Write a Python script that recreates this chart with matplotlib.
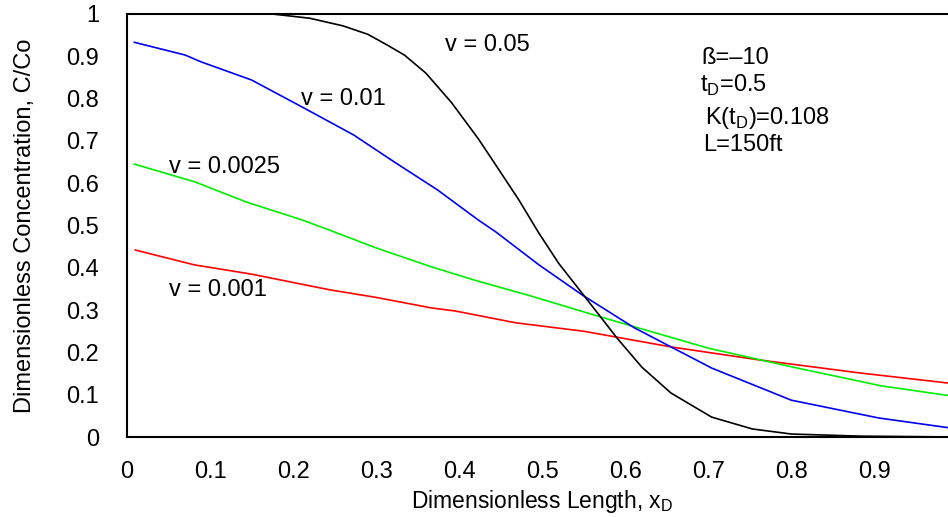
import matplotlib
matplotlib.use('Agg')
import matplotlib.pyplot as plt

plt.rcParams['font.family'] = ['Liberation Sans', 'DejaVu Sans']

# v = 0.001
x_red = [0.01, 0.081, 0.15, 0.244, 0.30, 0.367, 0.395, 0.468, 0.55, 0.655, 0.762, 0.88, 1.0]
y_red = [0.442, 0.407, 0.385, 0.348, 0.330, 0.305, 0.298, 0.270, 0.250, 0.213, 0.182, 0.152, 0.125]

# v = 0.0025
x_green = [0.009, 0.082, 0.143, 0.211, 0.244, 0.30, 0.367, 0.42, 0.487, 0.57, 0.70, 0.80, 0.908, 1.0]
y_green = [0.645, 0.603, 0.556, 0.513, 0.489, 0.447, 0.402, 0.370, 0.333, 0.284, 0.210, 0.166, 0.121, 0.095]

# v = 0.01
x_blue = [0.009, 0.07, 0.089, 0.15, 0.211, 0.273, 0.322, 0.374, 0.423, 0.444, 0.496, 0.548, 0.611, 0.704,
          0.80, 0.905, 1.0]
y_blue = [0.933, 0.903, 0.887, 0.844, 0.780, 0.714, 0.650, 0.584, 0.513, 0.485, 0.407, 0.336, 0.258, 0.163,
          0.087, 0.045, 0.019]

# v = 0.05
x_black = [0.09, 0.175, 0.22, 0.26, 0.29, 0.313, 0.334, 0.36, 0.391, 0.423, 0.44, 0.472, 0.495, 0.52, 0.548,
           0.59, 0.62, 0.655, 0.704, 0.753, 0.80, 0.884, 1.0]
y_black = [1.0, 1.0, 0.99, 0.972, 0.952, 0.927, 0.903, 0.86, 0.790, 0.705, 0.655, 0.560, 0.485, 0.41, 0.340,
           0.234, 0.165, 0.104, 0.047, 0.019, 0.007, 0.002, 0.0]

xticks = [0, 0.1, 0.2, 0.3, 0.4, 0.5, 0.6, 0.7, 0.8, 0.9, 1]
xtick_labels = ['0', '0.1', '0.2', '0.3', '0.4', '0.5', '0.6', '0.7', '0.8', '0.9', '1']
yticks = xticks
ytick_labels = xtick_labels

fig = plt.figure(figsize=(9.48, 5.17), dpi=100)
ax = fig.add_axes([127/948, 1 - 437/517, 1 - 127/948 + 0.01, (437 - 14)/517])

lw = 1.2
ax.plot(x_red, y_red, color='#ff0000', lw=lw)
ax.plot(x_green, y_green, color='#00ee00', lw=lw)
ax.plot(x_blue, y_blue, color='#0000ee', lw=lw)
ax.plot(x_black, y_black, color='black', lw=lw, clip_on=False)

ax.set_xlim(0, 1)
ax.set_ylim(0, 1)
ax.set_xticks(xticks)
ax.set_xticklabels(xtick_labels)
ax.set_yticks(yticks)
ax.set_yticklabels(ytick_labels)
ax.tick_params(length=0, labelsize=17)
ax.tick_params(axis='x', pad=17)
ax.tick_params(axis='y', pad=20)
for s in ['left', 'bottom', 'top']:
    ax.spines[s].set_linewidth(1.5)
ax.spines['right'].set_visible(False)

ax.set_xlabel('Dimensionless Length, x$_\\mathregular{D}$', fontsize=16.5, labelpad=4)
ax.set_ylabel('Dimensionless Concentration, C/Co', fontsize=17, labelpad=22)

fs = 17
ax.text(0.434, 0.927, 'v = 0.05', fontsize=fs, ha='center', va='center')
ax.text(0.26, 0.80, 'v = 0.01', fontsize=fs, ha='center', va='center')
ax.text(0.117, 0.638, 'v = 0.0025', fontsize=fs, ha='center', va='center')
ax.text(0.11, 0.348, 'v = 0.001', fontsize=fs, ha='center', va='center')

ax.text(0.692, 0.896, 'ß=–10', fontsize=fs, ha='left', va='center')
ax.text(0.690, 0.832, 't$_\\mathregular{D}$=0.5', fontsize=fs, ha='left', va='center')
ax.text(0.696, 0.754, 'K(t$_\\mathregular{D}$)=0.108', fontsize=fs, ha='left', va='center')
ax.text(0.694, 0.690, 'L=150ft', fontsize=fs, ha='left', va='center')

fig.savefig('out.png', dpi=100)
